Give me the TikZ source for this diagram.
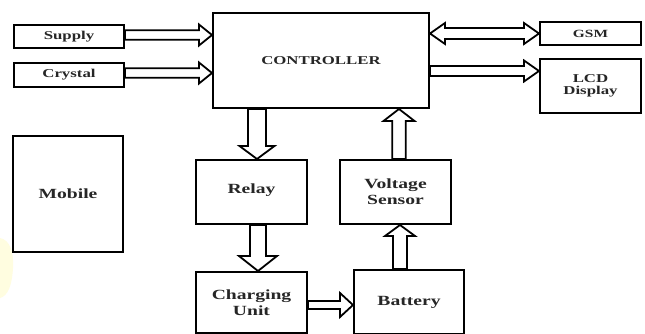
\documentclass[tikz,border=0pt]{standalone}
\usepackage{fontspec}
\setmainfont{Liberation Serif}[FakeStretch=1.4]
\usetikzlibrary{calc}

\tikzset{
  box/.style={draw=black, line width=2pt, fill=white, inner sep=0pt, align=center,
    text=black!85, font=\bfseries\fontsize{14}{16}\selectfont},
  smallbox/.style={box, font=\bfseries\fontsize{12}{14}\selectfont},
  blockarrow/.style={draw=black, line width=1.8pt, fill=white, line join=miter},
}

% #1 shaft half width, #2 head half width, #3 head length, #4 from, #5 to
\newcommand\blockarrow[5]{%
  \path let \p1=($(#5)-(#4)$) in \pgfextra{%
    \pgfmathsetmacro\baang{atan2(\y1,\x1)}%
    \pgfmathsetmacro\balen{veclen(\x1,\y1)}%
    \xdef\gbaang{\baang}\xdef\gbalen{\balen}};
  \draw[blockarrow, shift={(#4)}, rotate=\gbaang]
    (0pt,-#1pt) -- ({\gbalen pt-#3pt},-#1pt) -- ({\gbalen pt-#3pt},-#2pt)
    -- (\gbalen pt,0pt) -- ({\gbalen pt-#3pt},#2pt) -- ({\gbalen pt-#3pt},#1pt)
    -- (0pt,#1pt) -- cycle;
}
\newcommand\dblockarrow[5]{%
  \path let \p1=($(#5)-(#4)$) in \pgfextra{%
    \pgfmathsetmacro\baang{atan2(\y1,\x1)}%
    \pgfmathsetmacro\balen{veclen(\x1,\y1)}%
    \xdef\gbaang{\baang}\xdef\gbalen{\balen}};
  \draw[blockarrow, shift={(#4)}, rotate=\gbaang]
    (0pt,0pt) -- (#3pt,#2pt) -- (#3pt,#1pt) -- ({\gbalen pt-#3pt},#1pt)
    -- ({\gbalen pt-#3pt},#2pt) -- (\gbalen pt,0pt) -- ({\gbalen pt-#3pt},-#2pt)
    -- ({\gbalen pt-#3pt},-#1pt) -- (#3pt,-#1pt) -- (#3pt,-#2pt) -- cycle;
}

\begin{document}
\begin{tikzpicture}[x=1pt, y=-1pt]
\useasboundingbox (0,0) rectangle (645,334);
\fill[white] (0,0) rectangle (645,334);
% faint yellow patch at the left edge
\fill[yellow!12] (0,238) .. controls (10,240) and (14,252) .. (13,268)
  .. controls (12,285) and (8,296) .. (0,298) -- cycle;

% boxes
\node[smallbox, minimum width=110pt, minimum height=23pt] (sup) at (69,36.5) {Supply};
\node[smallbox, minimum width=110pt, minimum height=24pt] (cry) at (69,75) {Crystal};
\node[smallbox, minimum width=216pt, minimum height=95pt] (ctrl) at (321,60.5) {CONTROLLER};
\node[smallbox, minimum width=101pt, minimum height=23pt, font=\bfseries\fontsize{11}{13}\selectfont] (gsm) at (590.5,33.5) {GSM};
\node[smallbox, minimum width=101pt, minimum height=54pt] (lcd) at (590.5,86) {\raisebox{7pt}{\begin{tabular}{@{}c@{}}LCD\\[-2pt]Display\end{tabular}}};
\node[box, minimum width=110pt, minimum height=116pt] (mob) at (68,194) {Mobile};
\node[box, minimum width=111pt, minimum height=64pt] (relay) at (251.5,192) {\raisebox{6pt}{Relay}};
\node[box, minimum width=111pt, minimum height=64pt] (vs) at (395.5,192) {Voltage\\Sensor};
\node[box, minimum width=111pt, minimum height=61pt] (chg) at (251.5,302.5) {Charging\\Unit};
\node[box, minimum width=110pt, minimum height=64pt] (bat) at (409,302) {Battery};

% arrow end points
\coordinate (a1) at (sup.east |- 0,35);
\coordinate (b1) at (ctrl.west |- 0,35);
\coordinate (a2) at (cry.east |- 0,73);
\coordinate (b2) at (ctrl.west |- 0,73);
\coordinate (a3) at (ctrl.east |- 0,33.5);
\coordinate (b3) at (gsm.west |- 0,33.5);
\coordinate (a4) at (ctrl.east |- 0,71);
\coordinate (b4) at (lcd.west |- 0,71);
\coordinate (a5) at (ctrl.south -| 257,0);
\coordinate (b5) at (relay.north -| 257,0);
\coordinate (a6) at (relay.south -| 258,0);
\coordinate (b6) at (chg.north -| 258,0);
\coordinate (a7) at (vs.north -| 399,0);
\coordinate (b7) at (ctrl.south -| 399,0);
\coordinate (a8) at (bat.north -| 400,0);
\coordinate (b8) at (vs.south -| 400,0);
\coordinate (a9) at (chg.east |- 0,305);
\coordinate (b9) at (bat.west |- 0,305);

% connectors
\blockarrow{4.8}{10.5}{13}{a1}{b1}
\blockarrow{4.8}{10.5}{13}{a2}{b2}
\dblockarrow{5.5}{10.5}{15}{a3}{b3}
\blockarrow{5}{10.5}{15}{a4}{b4}
\blockarrow{9}{17.5}{13}{a5}{b5}
\blockarrow{8}{19}{15}{a6}{b6}
\blockarrow{6.8}{15.5}{12}{a7}{b7}
\blockarrow{7}{15}{11}{a8}{b8}
\blockarrow{4}{12}{13}{a9}{b9}
\end{tikzpicture}
\end{document}
